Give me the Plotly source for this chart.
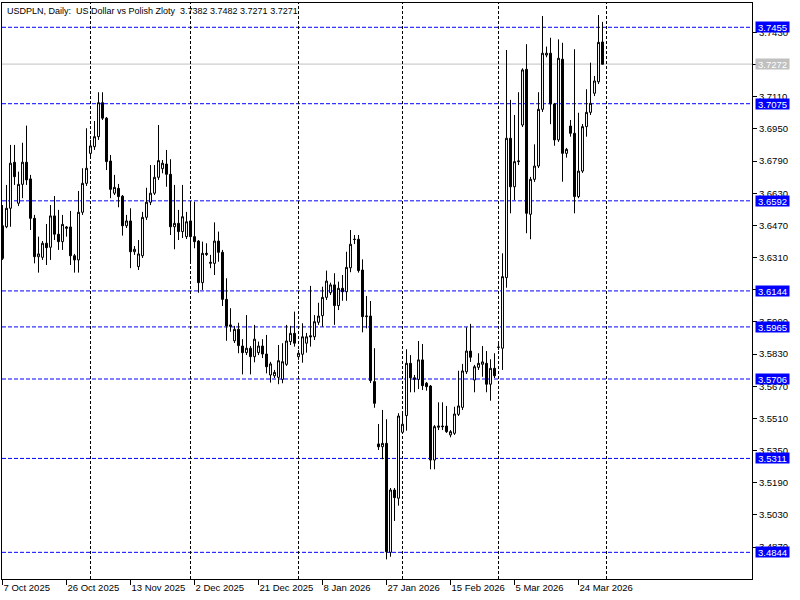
import plotly.graph_objects as go

# ---- trading days (Sunday bars included, no Saturdays) ----
oct_days = [7, 8, 9, 10, 12, 13, 14, 15, 16, 17, 19, 20, 21, 22, 23, 24, 26, 27, 28, 29, 30, 31]
nov_days = [2, 3, 4, 5, 6, 7, 9, 10, 11, 12, 13, 14, 16, 17, 18, 19, 20, 21, 23, 24, 25, 26, 27, 28, 30]
dec_days = [1, 2, 3, 4, 5, 7, 8, 9, 10, 11, 12, 14, 15, 16, 17, 18, 19, 21, 22, 23, 24, 25, 26, 28, 29, 30, 31]
jan_days = [1, 2, 4, 5, 6, 7, 8, 9, 11, 12, 13, 14, 15, 16, 18, 19, 20, 21, 22, 23, 25, 26, 27, 28, 29, 30]
feb_days = [1, 2, 3, 4, 5, 6, 8, 9, 10, 11, 12, 13, 15, 16, 17, 18, 19, 20, 22, 23, 24, 25, 26, 27]
mar_days = [1, 2, 3, 4, 5, 6, 8, 9, 10, 11, 12, 13, 15, 16, 17, 18, 19, 20, 22, 23, 24, 25, 26, 27, 29, 30, 31]

dates = ([f"2025-10-{d:02d}" for d in oct_days] + [f"2025-11-{d:02d}" for d in nov_days]
         + [f"2025-12-{d:02d}" for d in dec_days] + [f"2026-01-{d:02d}" for d in jan_days]
         + [f"2026-02-{d:02d}" for d in feb_days] + [f"2026-03-{d:02d}" for d in mar_days])

# ---- OHLC values ----
open_ = [3.6468, 3.6463, 3.6555, 3.6784, 3.6580, 3.6674, 3.6784, 3.6701, 3.6505, 3.6314,
         3.6311, 3.6381, 3.6361, 3.6517, 3.6426, 3.6389, 3.6462, 3.6462, 3.6319, 3.6298,
         3.6535, 3.6679, 3.6828, 3.6861, 3.6911, 3.7080, 3.7003, 3.6790, 3.6630, 3.6654,
         3.6615, 3.6468, 3.6492, 3.6339, 3.6265, 3.6319, 3.6510, 3.6585, 3.6630, 3.6709,
         3.6752, 3.6775, 3.6724, 3.6463, 3.6480, 3.6439, 3.6414, 3.6492, 3.6414, 3.6392,
         3.6185, 3.6331, 3.6281, 3.6281, 3.6392, 3.6336, 3.6102, 3.5975, 3.5896, 3.5953,
         3.5870, 3.5837, 3.5859, 3.5817, 3.5837, 3.5870, 3.5830, 3.5726, 3.5722, 3.5714,
         3.5704, 3.5779, 3.5892, 3.5933, 3.5817, 3.5829, 3.5884, 3.5921, 3.5916, 3.5988,
         3.6021, 3.6112, 3.6135, 3.6174, 3.6071, 3.6157, 3.6140, 3.6259, 3.6401, 3.6401,
         3.6248, 3.6016, 3.6019, 3.5693, 3.5383, 3.5369, 3.5386, 3.4844, 3.5154, 3.5113,
         3.5441, 3.5524, 3.5784, 3.5712, 3.5704, 3.5801, 3.5685, 3.5671, 3.5303, 3.5466,
         3.5472, 3.5472, 3.5428, 3.5436, 3.5530, 3.5565, 3.5742, 3.5845, 3.5701, 3.5764,
         3.5779, 3.5784, 3.5680, 3.5759, 3.5864, 3.5859, 3.6210, 3.6903, 3.6662, 3.6787,
         3.6969, 3.7246, 3.6525, 3.6699, 3.6765, 3.7047, 3.7317, 3.7326, 3.7074, 3.6895,
         3.7296, 3.6828, 3.6964, 3.6928, 3.6613, 3.6740, 3.6961, 3.7032, 3.7127, 3.7184,
         3.7382]
high = [3.6571, 3.6671, 3.6870, 3.6870, 3.6737, 3.6881, 3.6966, 3.6721, 3.6522, 3.6414,
        3.6392, 3.6477, 3.6571, 3.6616, 3.6547, 3.6522, 3.6467, 3.6542, 3.6328, 3.6641,
        3.6754, 3.6953, 3.6895, 3.6989, 3.7132, 3.7132, 3.7009, 3.6820, 3.6721, 3.6676,
        3.6621, 3.6522, 3.6555, 3.6367, 3.6397, 3.6537, 3.6657, 3.6770, 3.6770, 3.6969,
        3.6795, 3.6845, 3.6799, 3.6671, 3.6547, 3.6671, 3.6537, 3.6581, 3.6588, 3.6397,
        3.6389, 3.6381, 3.6323, 3.6485, 3.6439, 3.6348, 3.6207, 3.6058, 3.5970, 3.5986,
        3.5904, 3.6024, 3.5870, 3.5975, 3.5892, 3.5904, 3.5925, 3.5791, 3.5751, 3.5875,
        3.5884, 3.5975, 3.5970, 3.6041, 3.5850, 3.5983, 3.5935, 3.6169, 3.6024, 3.6085,
        3.6165, 3.6245, 3.6185, 3.6232, 3.6190, 3.6223, 3.6339, 3.6447, 3.6422, 3.6422,
        3.6301, 3.6119, 3.6094, 3.5859, 3.5482, 3.5552, 3.5506, 3.5164, 3.5164, 3.5536,
        3.5532, 3.5854, 3.5825, 3.5726, 3.5895, 3.5880, 3.5691, 3.5676, 3.5477, 3.5590,
        3.5590, 3.5572, 3.5452, 3.5568, 3.5747, 3.5781, 3.5963, 3.5980, 3.5776, 3.5834,
        3.5870, 3.5845, 3.5804, 3.5834, 3.5889, 3.6331, 3.7342, 3.7094, 3.7019, 3.7132,
        3.7251, 3.7371, 3.6711, 3.6873, 3.7132, 3.7511, 3.7359, 3.7403, 3.7079, 3.7395,
        3.7378, 3.6855, 3.6994, 3.7346, 3.7030, 3.6974, 3.7147, 3.7279, 3.7213, 3.7516,
        3.7482]
low = [3.6298, 3.6456, 3.6463, 3.6671, 3.6566, 3.6605, 3.6671, 3.6447, 3.6281, 3.6235,
       3.6298, 3.6273, 3.6298, 3.6397, 3.6348, 3.6348, 3.6414, 3.6273, 3.6235, 3.6235,
       3.6522, 3.6666, 3.6805, 3.6845, 3.6895, 3.6994, 3.6745, 3.6605, 3.6621, 3.6560,
       3.6419, 3.6457, 3.6257, 3.6323, 3.6248, 3.6308, 3.6497, 3.6571, 3.6621, 3.6696,
       3.6729, 3.6662, 3.6422, 3.6351, 3.6397, 3.6407, 3.6402, 3.6283, 3.6356, 3.6135,
       3.6149, 3.6318, 3.6257, 3.6223, 3.6289, 3.6069, 3.5896, 3.5941, 3.5885, 3.5834,
       3.5729, 3.5825, 3.5729, 3.5789, 3.5825, 3.5810, 3.5734, 3.5688, 3.5711, 3.5680,
       3.5685, 3.5771, 3.5875, 3.5867, 3.5801, 3.5787, 3.5837, 3.5867, 3.5900, 3.5975,
       3.5966, 3.6099, 3.6124, 3.5975, 3.6049, 3.6095, 3.6095, 3.6237, 3.6377, 3.6235,
       3.5938, 3.5958, 3.5686, 3.5563, 3.5353, 3.5307, 3.4809, 3.4822, 3.5000, 3.5076,
       3.5438, 3.5449, 3.5640, 3.5640, 3.5656, 3.5651, 3.5648, 3.5257, 3.5257, 3.5452,
       3.5452, 3.5438, 3.5416, 3.5428, 3.5522, 3.5552, 3.5731, 3.5791, 3.5640, 3.5751,
       3.5717, 3.5640, 3.5598, 3.5711, 3.5850, 3.5751, 3.6160, 3.6530, 3.6596, 3.6770,
       3.6959, 3.6431, 3.6401, 3.6686, 3.6755, 3.7034, 3.7306, 3.6973, 3.6866, 3.6885,
       3.6687, 3.6807, 3.6911, 3.6530, 3.6605, 3.6731, 3.6911, 3.7019, 3.7113, 3.7173,
       3.7271]
close = [3.6306, 3.6555, 3.6779, 3.6712, 3.6674, 3.6784, 3.6696, 3.6505, 3.6314, 3.6328,
         3.6381, 3.6359, 3.6517, 3.6426, 3.6389, 3.6475, 3.6456, 3.6319, 3.6298, 3.6535,
         3.6679, 3.6754, 3.6865, 3.6911, 3.7080, 3.7003, 3.6787, 3.6649, 3.6659, 3.6613,
         3.6468, 3.6492, 3.6339, 3.6351, 3.6328, 3.6510, 3.6585, 3.6630, 3.6709, 3.6792,
         3.6779, 3.6724, 3.6463, 3.6480, 3.6439, 3.6513, 3.6488, 3.6414, 3.6389, 3.6185,
         3.6331, 3.6326, 3.6286, 3.6392, 3.6336, 3.6102, 3.5970, 3.5968, 3.5953, 3.5872,
         3.5837, 3.5859, 3.5817, 3.5904, 3.5870, 3.5830, 3.5767, 3.5781, 3.5739, 3.5797,
         3.5792, 3.5895, 3.5933, 3.5884, 3.5834, 3.5916, 3.5916, 3.5916, 3.5991, 3.6019,
         3.6112, 3.6193, 3.6174, 3.6071, 3.6157, 3.6140, 3.6261, 3.6376, 3.6400, 3.6245,
         3.6016, 3.6019, 3.5698, 3.5585, 3.5369, 3.5386, 3.4847, 3.5154, 3.5116, 3.5522,
         3.5481, 3.5784, 3.5712, 3.5704, 3.5801, 3.5673, 3.5668, 3.5303, 3.5469, 3.5472,
         3.5469, 3.5444, 3.5444, 3.5532, 3.5572, 3.5746, 3.5845, 3.5814, 3.5767, 3.5784,
         3.5791, 3.5680, 3.5759, 3.5722, 3.5864, 3.6215, 3.6903, 3.6662, 3.6787, 3.6790,
         3.7243, 3.6530, 3.6699, 3.6765, 3.7047, 3.7326, 3.7326, 3.7074, 3.6895, 3.7301,
         3.6828, 3.6848, 3.6928, 3.6613, 3.6740, 3.6961, 3.7032, 3.7077, 3.7188, 3.7380,
         3.7271]

# ---- axis ticks / levels ----
x_tick_idx = [0, 16, 32, 48, 64, 80, 96, 112, 128, 144]
x_tick_text = ["7 Oct 2025", "26 Oct 2025", "13 Nov 2025", "2 Dec 2025", "21 Dec 2025",
               "8 Jan 2026", "27 Jan 2026", "15 Feb 2026", "5 Mar 2026", "24 Mar 2026"]
y_tick_vals = [3.7430, 3.7270, 3.7110, 3.6950, 3.6790, 3.6630, 3.6470, 3.6310, 3.6150,
               3.5990, 3.5830, 3.5670, 3.5510, 3.5350, 3.5190, 3.5030, 3.4870]
levels = [3.7455, 3.7075, 3.6592, 3.6144, 3.5965, 3.5706, 3.5311, 3.4844]
bid_level = 3.7272
separator_idx = [22, 47, 74, 100, 124, 151]
title_text = "USDPLN, Daily:\u00a0\u00a0US Dollar vs Polish Zloty\u00a0\u00a03.7382 3.7482 3.7271 3.7271"

FONT = "Liberation Sans, Arial, sans-serif"
FS = 9.5

fig = go.Figure()
fig.add_trace(go.Candlestick(
    x=dates, open=open_, high=high, low=low, close=close,
    increasing=dict(line=dict(color="black", width=1), fillcolor="white"),
    decreasing=dict(line=dict(color="black", width=1), fillcolor="black"),
    whiskerwidth=0, hoverinfo="skip",
))

shapes = []
for lv in levels:
    shapes.append(dict(type="line", xref="paper", x0=0, x1=1, yref="y", y0=lv, y1=lv,
                       line=dict(color="#0000ff", width=1, dash="4px,2px"), layer="below"))
shapes.append(dict(type="line", xref="paper", x0=0, x1=1, yref="y", y0=bid_level, y1=bid_level,
                   line=dict(color="#c0c0c0", width=1), layer="below"))
for si in separator_idx:
    shapes.append(dict(type="line", xref="x", x0=si, x1=si, yref="paper", y0=0, y1=1,
                       line=dict(color="black", width=1, dash="3px,2px"), layer="below"))

annotations = []
for lv in levels:
    annotations.append(dict(xref="paper", x=1, xanchor="left", xshift=3, yref="y", y=lv,
                            yanchor="middle", text=f"{lv:.4f}", showarrow=False,
                            font=dict(family=FONT, size=FS, color="white"),
                            bgcolor="#0000ff", borderpad=0, width=33, height=10))
annotations.append(dict(xref="paper", x=1, xanchor="left", xshift=3, yref="y", y=bid_level,
                        yanchor="middle", text=f"{bid_level:.4f}", showarrow=False,
                        font=dict(family=FONT, size=FS, color="white"),
                        bgcolor="#c0c0c0", borderpad=0, width=33, height=10))
annotations.append(dict(xref="paper", x=0, xanchor="left", xshift=3, yref="paper", y=1,
                        yanchor="top", yshift=-1, text=title_text, showarrow=False,
                        font=dict(family=FONT, size=9, color="black")))

fig.update_layout(
    width=800, height=600,
    margin=dict(l=2, r=48, t=3, b=21, autoexpand=False),
    paper_bgcolor="white", plot_bgcolor="white",
    showlegend=False,
    shapes=shapes, annotations=annotations,
    xaxis=dict(type="category", range=[-0.125, 187.375], automargin=False,
               rangeslider=dict(visible=False), showgrid=False, zeroline=False,
               showline=True, mirror=True, linecolor="black", linewidth=1,
               ticks="outside", ticklen=5, tickcolor="black", tickangle=0,
               tickvals=[dates[i] for i in x_tick_idx], ticktext=x_tick_text,
               ticklabelposition="outside right",
               tickfont=dict(family=FONT, size=FS, color="black")),
    yaxis=dict(side="right", range=[3.47114, 3.75758], showgrid=False, zeroline=False,
               automargin=False,
               showline=True, mirror=True, linecolor="black", linewidth=1,
               ticks="outside", ticklen=4, tickcolor="black",
               tickvals=y_tick_vals, ticktext=[f"{v:.4f}" for v in y_tick_vals],
               tickfont=dict(family=FONT, size=FS, color="black")),
)

fig.write_html("out.html", config={"displayModeBar": False},
               post_script="document.body.style.margin='0';document.body.style.padding='0';")
